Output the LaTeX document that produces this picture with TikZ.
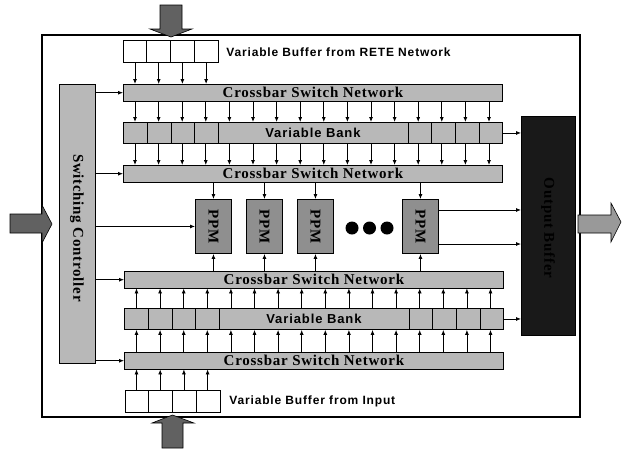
\documentclass[tikz,border=0pt]{standalone}
\usepackage{fontspec}
\setmainfont{Liberation Serif}
\newfontfamily\labelfont[LetterSpace=7]{Liberation Sans}
\newfontfamily\barfont[LetterSpace=5]{Liberation Serif}
\usetikzlibrary{arrows.meta,positioning,calc}
\definecolor{barfill}{gray}{0.72}
\definecolor{ppmfill}{gray}{0.56}
\definecolor{outfill}{gray}{0.1}
\definecolor{bigarrow}{gray}{0.38}

\begin{document}
\begin{tikzpicture}[x=1pt, y=-1pt,
  box/.style={draw, line width=0.9pt, anchor=north west, inner sep=0pt},
  cbar/.style={box, fill=barfill, minimum width=379pt, minimum height=16.5pt, font=\barfont\fontsize{15}{15}\selectfont\bfseries},
  vbank/.style={box, fill=barfill, minimum width=379pt, minimum height=21pt, font=\labelfont\fontsize{13}{13}\selectfont\bfseries},
  vbuf/.style={box, fill=white, minimum width=95pt, minimum height=22pt},
  ppm/.style={box, fill=ppmfill, minimum width=36pt, minimum height=54pt},
  vtext/.style={rotate=-90, inner sep=0pt, font=\barfont\fontsize{15}{15}\selectfont\bfseries},
  lbl/.style={anchor=west, inner sep=0pt, font=\labelfont\fontsize{12}{12}\selectfont\bfseries},
  big/.style={fill=bigarrow, draw=black, line width=0.6pt},
  >={Latex[length=5pt,width=4pt]}, line width=0.8pt]
\useasboundingbox (0,0) rectangle (624,448);
% outer frame
\draw[line width=1.6pt] (42,35) rectangle (580,417);
% buffers
\node[vbuf] (buftop) at (123,40) {};
\node[vbuf] (bufbot) at (125,390) {};
\node[lbl] (lbltop) at (226,52) {Variable Buffer from RETE Network};
\node[lbl] (lblbot) at (229,401) {Variable Buffer from Input};
% crossbars and banks
\node[cbar]  (cb1) at (123,84)  {Crossbar Switch Network};
\node[vbank] (vb1) at (123,122) {Variable Bank};
\node[cbar]  (cb2) at (123,165) {Crossbar Switch Network};
\node[cbar]  (cb3) at (124,271) {Crossbar Switch Network};
\node[vbank] (vb2) at (124,308) {Variable Bank};
\node[cbar]  (cb4) at (124,352) {Crossbar Switch Network};
% controller and output
\node[box, fill=barfill, minimum width=36pt, minimum height=279pt] (ctrl) at (59,84) {};
\node[vtext] (ctrltxt) at (77,228) {Switching Controller};
\node[box, fill=outfill, minimum width=54pt, minimum height=219pt] (out) at (521,116) {};
\node[vtext, text=black] (outtxt) at (548,228) {Output Buffer};
% PPMs
\node[ppm] (ppm1) at (195,199) {};
\node[ppm] (ppm2) at (246,199) {};
\node[ppm] (ppm3) at (297,199) {};
\node[ppm] (ppm4) at (402,199) {};
\foreach \p in {ppm1,ppm2,ppm3,ppm4}
  \node[vtext] at (\p.center) {PPM};
\foreach \x in {352,369.5,387} \fill (\x,228) circle (6.5pt);
% cell dividers
\foreach \i in {1,...,3} {
  \draw ($(buftop.north west)+(23.75*\i,0)$) -- ($(buftop.south west)+(23.75*\i,0)$);
  \draw ($(bufbot.north west)+(23.75*\i,0)$) -- ($(bufbot.south west)+(23.75*\i,0)$);
}
\foreach \x in {147.5,171,194.5,218,408,431.5,455,479} {
  \draw (\x,0 |- vb1.north) -- (\x,0 |- vb1.south);
  \draw (\x+1,0 |- vb2.north) -- (\x+1,0 |- vb2.south);
}
% data arrows
\foreach \i in {0,...,3} {
  \draw[->] (135+23.7*\i,0 |- buftop.south) -- (135+23.7*\i,0 |- cb1.north);
  \draw[->] (136.5+23.7*\i,0 |- bufbot.north) -- (136.5+23.7*\i,0 |- cb4.south);
}
\foreach \i in {0,...,15} {
  \draw[->] (135+23.6*\i,0 |- cb1.south) -- (135+23.6*\i,0 |- vb1.north);
  \draw[->] (135+23.6*\i,0 |- vb1.south) -- (135+23.6*\i,0 |- cb2.north);
  \draw[->] (136.5+23.6*\i,0 |- vb2.north) -- (136.5+23.6*\i,0 |- cb3.south);
  \draw[->] (136.5+23.6*\i,0 |- cb4.north) -- (136.5+23.6*\i,0 |- vb2.south);
}
\foreach \p in {ppm1,ppm2,ppm3,ppm4} {
  \draw[->] (\p.north |- cb2.south) -- (\p.north);
  \draw[->] (\p.south |- cb3.north) -- (\p.south);
}
% control arrows
\foreach \n in {cb1,cb2,ppm1,cb3,cb4}
  \draw[->] (ctrl.east |- \n.west) -- (\n.west);
% to output
\draw[->] (vb1.east) -- (vb1.east -| out.west);
\draw[->] (vb2.east) -- (vb2.east -| out.west);
\coordinate (p4a) at ($(ppm4.north east)!0.2!(ppm4.south east)$);
\coordinate (p4b) at ($(ppm4.north east)!0.82!(ppm4.south east)$);
\draw[->] (p4a) -- (p4a -| out.west);
\draw[->] (p4b) -- (p4b -| out.west);
% big arrows
\draw[big] (160,5) -- (182,5) -- (182,29) -- (192,29) -- (171,37) -- (150,29) -- (160,29) -- cycle;
\draw[big] (162,448) -- (183,448) -- (183,423) -- (194,423) -- (172.5,415) -- (152,423) -- (162,423) -- cycle;
\draw[big] (10,214) -- (42,214) -- (42,205) -- (52,224) -- (42,243) -- (42,233) -- (10,233) -- cycle;
\draw[big, fill=gray!80] (578,215) -- (611,215) -- (611,203) -- (621,222) -- (611,242) -- (611,233) -- (578,233) -- cycle;
\end{tikzpicture}
\end{document}
